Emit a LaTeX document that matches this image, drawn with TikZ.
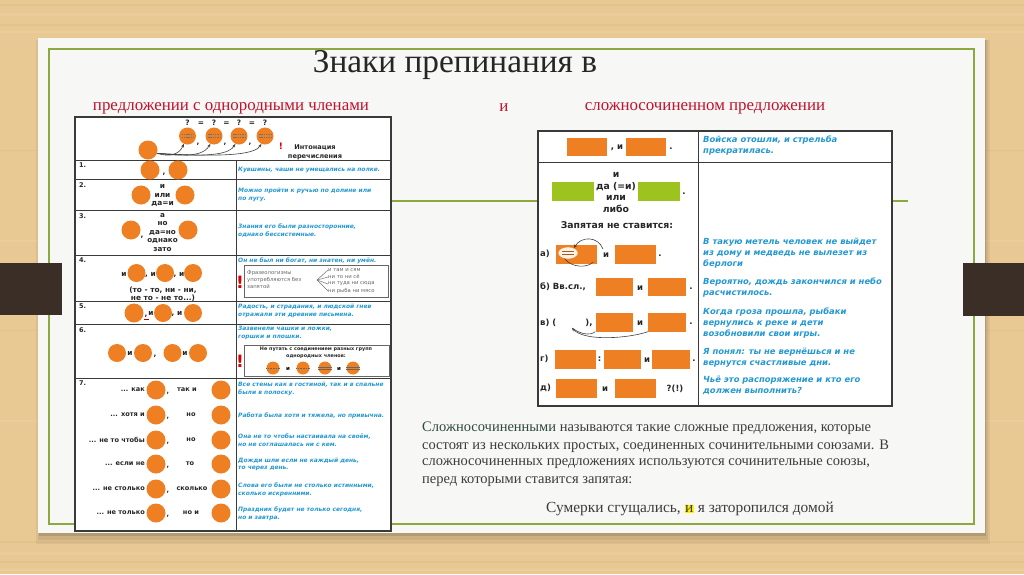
\documentclass[tikz,border=0pt]{standalone}
\usepackage{fontspec}
\setmainfont{Liberation Serif}
\newfontfamily\tf{DejaVu Sans}
\usetikzlibrary{arrows.meta,shapes.geometric}
\definecolor{wood}{HTML}{E8C994}
\definecolor{woodd}{HTML}{D9B47C}
\definecolor{woodl}{HTML}{F0D8AE}
\definecolor{bandC}{HTML}{3A2E27}
\definecolor{paperC}{HTML}{F7F7F6}
\definecolor{glineC}{HTML}{8CA83E}
\definecolor{orangeC}{HTML}{EE7F22}
\definecolor{greenC}{HTML}{9CC31E}
\definecolor{exblue}{HTML}{2398D2}
\definecolor{redC}{HTML}{C0122C}
\definecolor{titleC}{HTML}{262626}
\definecolor{bodyC}{HTML}{3C3C3C}
\definecolor{dgreenC}{HTML}{2E4A3C}
\definecolor{tgray}{HTML}{3A3A3A}
\definecolor{boxgray}{HTML}{666666}
\tikzset{
  oc/.style={circle, fill=orangeC, minimum size=19pt, inner sep=0pt},
  osm/.style={circle, fill=orangeC, minimum size=13pt, inner sep=0pt},
  orect/.style={rectangle, fill=orangeC, minimum height=18pt, inner sep=0pt},
  grect/.style={rectangle, fill=greenC, minimum height=19pt, minimum width=42pt, inner sep=0pt},
  tb/.style={font=\tf\bfseries\fontsize{7.4}{9}\selectfont, text=black!85, inner sep=0pt},
  tbs/.style={font=\tf\bfseries\fontsize{6.6}{9}\selectfont, text=black!85, inner sep=0pt},
  tbr/.style={font=\tf\bfseries\fontsize{8.5}{11.5}\selectfont, text=black!85, inner sep=0pt},
  tbg/.style={font=\tf\bfseries\fontsize{9.3}{11.6}\selectfont, text=black!85, inner sep=0pt},
  num/.style={font=\tf\bfseries\fontsize{6.5}{8}\selectfont, text=black!85, anchor=north west, inner sep=0pt},
  exl/.style={font=\tf\bfseries\itshape\fontsize{5.95}{7.6}\selectfont, text=exblue, anchor=north west, align=left, inner sep=0pt},
  exr/.style={font=\tf\bfseries\itshape\fontsize{8.4}{11}\selectfont, text=exblue, anchor=north west, align=left, inner sep=0pt},
  tabline/.style={draw=tgray, line width=1.3pt},
  inline/.style={draw=tgray, line width=0.9pt},
  arr/.style={-{Stealth[length=3.5pt,width=3pt]}, draw=black!75, line width=0.6pt},
  excl/.style={font=\tf\bfseries\fontsize{17}{17}\selectfont, text=red!85!black, inner sep=0pt},
  para/.style={font=\fontsize{14.5}{18}\selectfont, text=bodyC, anchor=west, inner sep=0pt},
}
\begin{document}
\begin{tikzpicture}[x=1pt,y=-1pt]
\useasboundingbox (0,0) rectangle (1024,574);
% wood background
\fill[wood] (0,0) rectangle (1024,574);
\foreach \yy/\c/\h in {4/woodd/2,13/woodl/3,24/woodd/1.5,31/woodl/2,150/woodd/1,240/woodl/2,330/woodd/1,420/woodl/2,541/woodd/2,552/woodl/3,561/woodd/1.5,569/woodl/2}{
  \fill[\c, opacity=0.3] (0,\yy) rectangle (1024,\yy+\h);
}
% shadow
\fill[black, opacity=0.05] (36,40) rectangle (990,544);
\fill[black, opacity=0.07] (38,40) rectangle (988,540);
\fill[black, opacity=0.12] (39,40) rectangle (986,536);
% paper
\fill[paperC] (38,38) rectangle (985,533);
\draw[glineC, line width=1.2pt] (49,49) rectangle (974,524);
% bands
\fill[bandC] (0,263) rectangle (62,315);
\fill[bandC] (963,263) rectangle (1024,316);
% green horizontal line
\draw[glineC, line width=1.2pt] (392,201) -- (908,201);

% title
\node[font=\fontsize{33.3}{34}\selectfont, text=titleC, inner sep=0pt] (title) at (455,65) {Знаки препинания в};
\node[font=\fontsize{16.9}{17}\selectfont, text=redC, inner sep=0pt] (s1) at (231,108) {предложении с однородными членами};
\node[font=\fontsize{16.9}{17}\selectfont, text=redC, inner sep=0pt] (s2) at (504,108) {и};
\node[font=\fontsize{16.9}{17}\selectfont, text=redC, inner sep=0pt] (s3) at (705,108) {сложносочиненном предложении};

% ================= LEFT TABLE =================
\fill[white] (75,117) rectangle (391,531);
\foreach \yy in {160,179,210,255,301,324,378}{\draw[inline] (75,\yy) -- (391,\yy);}
\draw[inline] (236,160) -- (236,531);
\draw[tabline] (75,117) rectangle (391,531);

% header row
\foreach \i/\x in {1/187.5,2/214,3/239,4/265}{
  \node[oc, minimum size=17pt] (h\i) at (\x,136) {};
  \draw[black!55, line width=0.5pt, dash pattern=on 1.5pt off 0.8pt] (\x-6,134) -- (\x+6,134);
  \draw[black!55, line width=0.5pt, dash pattern=on 1.5pt off 0.8pt] (\x-6,137.5) -- (\x+6,137.5);
  \node[tb] (q\i) at (\x,123) {?};
}
\node[tb] (e1) at (201,124) {=};
\node[tb] (e2) at (226.5,124) {=};
\node[tb] (e3) at (252,124) {=};
\node[tb] (c1) at (198,144) {,};
\node[tb] (c2) at (225,144) {,};
\node[tb] (c3) at (250,144) {,};
\node[oc, minimum size=19pt] (hb) at (148,150) {};
\draw[arr] (hb.-20) .. controls (172,158) and (180,153) .. (h1.-115);
\draw[arr] (hb.-20) .. controls (195,158) and (205,153) .. (h2.-115);
\draw[arr] (hb.-20) .. controls (215,158) and (230,153) .. (h3.-115);
\draw[arr] (hb.-20) .. controls (235,158) and (256,153) .. (h4.-115);
\node[font=\tf\bfseries\fontsize{9}{9}\selectfont, text=red!85!black, inner sep=0pt] (hx) at (281,146) {!};
\node[tb, align=center, font=\tf\bfseries\fontsize{6.6}{9}\selectfont] (hint) at (315,152) {Интонация\\ перечисления};

% row 1
\node[num] (n1) at (79,163) {1.};
\node[oc] (r1a) at (150,170) {};
\node[tb] (r1c) at (164,174) {,};
\node[oc] (r1b) at (178,170) {};
\node[exl] (x1) at (238,166.5) {Кувшины, чаши не умещались на полке.};

% row 2
\node[num] (n2) at (79,182) {2.};
\node[oc] (r2a) at (141,195) {};
\node[oc] (r2b) at (185,195) {};
\node[tb, align=center, font=\tf\bfseries\fontsize{7.4}{8.8}\selectfont] (r2t) at (162.5,195.5) {и\\ или\\ да=и};
\node[exl] (x2) at (238,188) {Можно пройти к ручью по долине или\\ по лугу.};

% row 3
\node[num] (n3) at (79,213) {3.};
\node[oc] (r3a) at (131,230) {};
\node[tb] (r3c) at (142,237) {,};
\node[oc] (r3b) at (188,230) {};
\node[tb, align=center, font=\tf\bfseries\fontsize{7.2}{8.5}\selectfont] (r3t) at (162.5,232.5) {а\\ но\\ да=но\\ однако\\ зато};
\node[exl] (x3) at (238,224) {Знания его были разносторонние,\\ однако бессистемные.};

% row 4
\node[num] (n4) at (79,258) {4.};
\node[tb] (r4i1) at (124,274) {и};
\node[oc, minimum size=18pt] (r4a) at (136.5,273) {};
\node[tb] (r4i2) at (150.5,275) {, и};
\node[oc, minimum size=18pt] (r4b) at (165,273) {};
\node[tb] (r4i3) at (179,275) {, и};
\node[oc, minimum size=18pt] (r4c) at (193,273) {};
\node[tb, align=center, font=\tf\bfseries\fontsize{7.4}{8.2}\selectfont] (r4t) at (163,294) {(то - то, ни - ни,\\ не то - не то...)};
\node[exl] (x4) at (238,257.5) {Он не был ни богат, ни знатен, ни умён.};
\draw[boxgray, line width=0.8pt] (244,265) rectangle (388,297);
\node[excl] (r4x) at (240,282) {!};
\node[font=\tf\fontsize{5.3}{7}\selectfont, text=black!60, align=left, anchor=west, inner sep=0pt] (r4p) at (247,279.5) {Фразеологизмы\\ употребляются без\\ запятой};
\coordinate (fan) at (317,280);
\foreach \i/\yy/\t in {1/270/{и там и сям},2/277/{ни то ни сё},3/284/{ни туда ни сюда},4/291/{ни рыба ни мясо}}{
  \node[font=\tf\fontsize{5.3}{7}\selectfont, text=black!60, anchor=west, inner sep=0pt] (f\i) at (328,\yy) {\t};
  \draw[black!55, line width=0.5pt] (fan) -- (f\i.west);
}

% row 5
\node[num] (n5) at (79,304) {5.};
\node[oc, minimum size=19pt] (r5a) at (134,313) {};
\node[tb] (r5c) at (146,316) {,};
\draw[red!70!black, line width=0.5pt] (143.5,319.5) -- (148.5,319.5);
\node[tb] (r5i1) at (151,313) {и};
\node[oc, minimum size=18pt] (r5b) at (163,313) {};
\node[tb] (r5i2) at (177,314) {, и};
\node[oc, minimum size=18pt] (r5c2) at (193,313) {};
\node[exl] (x5) at (238,304) {Радость, и страдания, и людской гнев\\ отражали эти древние письмена.};

% row 6
\node[num] (n6) at (79,327) {6.};
\node[oc, minimum size=18pt] (r6a) at (117,353) {};
\node[tb] (r6i1) at (130,353) {и};
\node[oc, minimum size=18pt] (r6b) at (143,353) {};
\node[tb] (r6c) at (155,356) {,};
\node[oc, minimum size=18pt] (r6c2) at (172.5,353) {};
\node[tb] (r6i2) at (185,353) {и};
\node[oc, minimum size=18pt] (r6d) at (198,353) {};
\node[exl] (x6) at (238,326) {Зазвенели чашки и ложки,\\ горшки и плошки.};
\draw[boxgray, line width=0.8pt] (244,345) rectangle (389,376);
\node[excl] (r6x) at (240,361) {!};
\node[font=\tf\bfseries\fontsize{4.9}{7}\selectfont, text=black!85, align=center, inner sep=0pt] (r6p) at (316,353) {Не путать с соединением разных групп\\ однородных членов:};
\node[osm] (b1) at (273,368) {};
\node[osm] (b2) at (303,368) {};
\node[osm] (b3) at (325,368) {};
\node[osm] (b4) at (353,368) {};
\node[font=\tf\bfseries\fontsize{5.5}{6}\selectfont, inner sep=0pt] (bi1) at (288,369) {и};
\node[font=\tf\bfseries\fontsize{5.5}{6}\selectfont, inner sep=0pt] (bi2) at (339,369) {и};
\draw[black!60, line width=0.4pt, dash pattern=on 1pt off 0.6pt] (b1.west) -- (b1.east);
\draw[black!60, line width=0.4pt, dash pattern=on 1pt off 0.6pt] (b2.west) -- (b2.east);
\draw[black!60, line width=0.4pt] ([yshift=-1pt]b3.west) -- ([yshift=-1pt]b3.east) ([yshift=1pt]b3.west) -- ([yshift=1pt]b3.east);
\draw[black!60, line width=0.4pt] ([yshift=-1pt]b4.west) -- ([yshift=-1pt]b4.east) ([yshift=1pt]b4.west) -- ([yshift=1pt]b4.east);

% row 7
\node[num] (n7) at (79,381) {7.};
\foreach \i/\yy/\l/\m/\mx in {1/390/{... как}/{так и}/187,2/415/{... хотя и}/{но}/191,3/440/{... не то чтобы}/{но}/191,4/464/{... если не}/{то}/190,5/489/{... не столько}/{сколько}/192,6/513/{... не только}/{но и}/191}{
  \node[tbs, anchor=east] (l\i) at (145,\yy) {\l};
  \node[oc] (la\i) at (156,\yy) {};
  \node[tbs] (lc\i) at (168,\yy+3) {,};
  \node[tbs] (lm\i) at (\mx,\yy) {\m};
  \node[oc] (lb\i) at (221,\yy) {};
}
\node[exl] (x71) at (238,382) {Все стены как в гостиной, так и в спальне\\ были в полоску.};
\node[exl] (x72) at (238,412.5) {Работа была хотя и тяжела, но привычна.};
\node[exl] (x73) at (238,433.5) {Она не то чтобы настаивала на своём,\\ но не соглашалась ни с кем.};
\node[exl] (x74) at (238,457.5) {Дожди шли если не каждый день,\\ то через день.};
\node[exl] (x75) at (238,482.5) {Слова его были не столько истинными,\\ сколько искренними.};
\node[exl] (x76) at (238,506.5) {Праздник будет не только сегодня,\\ но и завтра.};

% ================= RIGHT TABLE =================
\fill[white] (538,131) rectangle (892,406);
\draw[inline] (538,162) -- (892,162);
\draw[inline] (698,131) -- (698,406);
\draw[tabline] (538,131) rectangle (892,406);

% row 1
\node[orect, minimum width=40pt] (ra1) at (587,147) {};
\node[tbr] (ra1i) at (617,148) {, и};
\node[orect, minimum width=40pt] (ra2) at (646,147) {};
\node[tbr] (ra1d) at (671,149) {.};
\node[exr] (y1) at (703,136) {Войска отошли, и стрельба\\ прекратилась.};

% green
\node[grect] (g1) at (573,191) {};
\node[tbg, align=center] (gt) at (616,192.5) {и\\ да (=и)\\ или\\ либо};
\node[grect] (g2) at (659,191) {};
\node[tbr] (gd) at (684,194) {.};
\node[tbg] (zap) at (617,225) {Запятая не ставится:};

% a)
\node[tbr, anchor=west] (la) at (540,254) {а)};
\node[orect, minimum width=41pt, minimum height=19pt] (a1) at (576,254) {};
\node[ellipse, fill=white!90!orangeC, draw=orangeC, minimum width=20pt, minimum height=12pt, inner sep=0pt] (ael) at (568,253) {};
\draw[orangeC!70!black, line width=0.5pt] (562,251.5) -- (574,251.5) (562,254.5) -- (574,254.5);
\node[tbr] (ai) at (606,255) {и};
\node[orect, minimum width=41pt, minimum height=19pt] (a2) at (635,254) {};
\node[tbr] (ad) at (660,256) {.};
\coordinate (aS) at (603,249);
\draw[arr] (aS) .. controls (598,236) and (581,236) .. (ael.40);
\draw[black!75, line width=0.6pt] (ael.-120) .. controls (572,268) and (588,268) .. (593,262);
\node[exr] (ya) at (703,238) {В такую метель человек не выйдет\\ из дому и медведь не вылезет из\\ берлоги};

% б)
\node[tbr, anchor=west] (lb) at (540,287) {б) Вв.сл.,};
\node[orect, minimum width=37pt] (bb1) at (614,287) {};
\node[tbr] (bi) at (640,288) {и};
\node[orect, minimum width=38pt] (bb2) at (667,287) {};
\node[tbr] (bd) at (691,289) {.};
\node[exr] (yb) at (703,278) {Вероятно, дождь закончился и небо\\ расчистилось.};

% в)
\node[tbr, anchor=west] (lv) at (540,323) {в) (};
\node[tbr] (lv2) at (589,323) {),};
\node[orect, minimum width=37pt, minimum height=19pt] (v1) at (614,322) {};
\node[tbr] (vi) at (640,323) {и};
\node[orect, minimum width=38pt, minimum height=19pt] (v2) at (667,322) {};
\node[tbr] (vd) at (691,324) {.};
\coordinate (vp) at (572,328);
\draw[arr] (v2.south west) .. controls (630,338) and (585,342) .. (vp);
\draw[black!75, line width=0.6pt] (v1.south west) .. controls (590,336) and (580,334) .. (vp);
\node[exr] (yv) at (703,308) {Когда гроза прошла, рыбаки\\ вернулись к реке и дети\\ возобновили свои игры.};

% г)
\node[tbr, anchor=west] (lg) at (540,359) {г)};
\node[orect, minimum width=41pt, minimum height=19pt] (gg1) at (575,359) {};
\node[tbr] (gc) at (599.5,359) {:};
\node[orect, minimum width=37pt, minimum height=19pt] (gg2) at (622.5,359) {};
\node[tbr] (gi) at (647,360) {и};
\node[orect, minimum width=38pt, minimum height=19pt] (gg3) at (671,359) {};
\node[tbr] (gd2) at (694,361) {.};
\node[exr] (yg) at (703,348) {Я понял: ты не вернёшься и не\\ вернутся счастливые дни.};

% д)
\node[tbr, anchor=west] (ld) at (540,388) {д)};
\node[orect, minimum width=41pt, minimum height=19pt] (d1) at (576,388) {};
\node[tbr] (di) at (605,389) {и};
\node[orect, minimum width=41pt, minimum height=19pt] (d2) at (635,388) {};
\node[tbr] (dq) at (675,389) {?(!)};
\node[exr] (yd) at (703,376) {Чьё это распоряжение и кто его\\ должен выполнить?};

% ================= PARAGRAPH =================
\node[para] (p1) at (422,428) {{\color{dgreenC}Сложносочиненными} называются такие сложные предложения, которые};
\node[para] (p2) at (422,446) {состоят из нескольких простых, соединенных сочинительными союзами. В};
\node[para] (p3) at (422,464) {сложносочиненных предложениях используются сочинительные союзы,};
\node[para] (p4) at (422,482) {перед которыми ставится запятая:};
\node[para, anchor=center, font=\fontsize{15.4}{18}\selectfont] (p5) at (690,509) {Сумерки сгущались, {\setlength{\fboxsep}{0.6pt}\colorbox{yellow}{и}} я заторопился домой};
\end{tikzpicture}
\end{document}
